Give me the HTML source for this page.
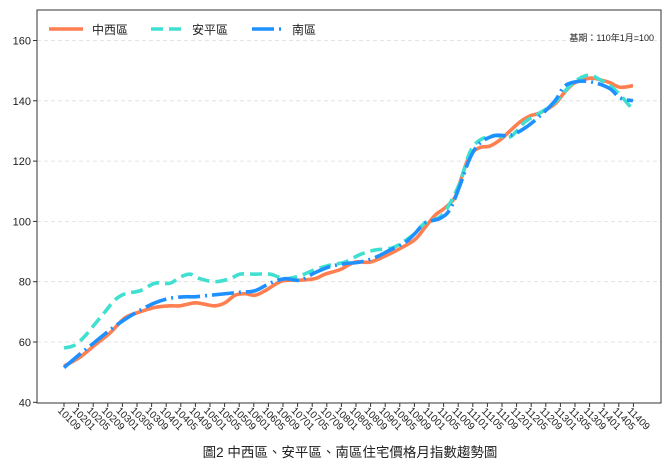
<!DOCTYPE html>
<html><head><meta charset="utf-8"><style>
html,body{margin:0;padding:0;background:#fff;}
svg text{font-family:"Liberation Sans","Noto Sans CJK TC",sans-serif;fill:#222;}
</style></head><body>
<svg id="s" width="671" height="470" viewBox="0 0 671 470" xmlns="http://www.w3.org/2000/svg">
<rect x="0" y="0" width="671" height="470" fill="#fff"/>
<g id="grid"></g>
<g id="lines" fill="none" stroke-width="3.6" stroke-linecap="butt" stroke-linejoin="round"></g>
<rect x="37" y="10" width="624" height="393" fill="none" stroke="#333" stroke-width="1"/>
<g id="ticks"></g>
<line x1="49" y1="29" x2="83" y2="29" stroke="#FF7F50" stroke-width="3.6"/>
<text x="92" y="34" font-size="12">中西區</text>
<line x1="151" y1="29" x2="183" y2="29" stroke="#40E0D0" stroke-width="3.6" stroke-dasharray="12,6"/>
<text x="192" y="34" font-size="12">安平區</text>
<line x1="252" y1="29" x2="283" y2="29" stroke="#1E90FF" stroke-width="3.6" stroke-dasharray="22,5,2,5"/>
<text x="292" y="34" font-size="12">南區</text>
<text x="654" y="41" font-size="9" text-anchor="end">基期：110年1月=100</text>
<text x="350" y="457" font-size="13.5" text-anchor="middle">圖2 中西區、安平區、南區住宅價格月指數趨勢圖</text>
</svg>
<script>
var NS="http://www.w3.org/2000/svg";
function Y(v){return 402.3-(v-40)*3.015;}
function el(t,a,p){var e=document.createElementNS(NS,t);for(var k in a)e.setAttribute(k,a[k]);p.appendChild(e);return e;}
var g=document.getElementById('grid'),tk=document.getElementById('ticks');
for(var v=40;v<=160;v+=20){var y=Y(v);
 if(v>40)el('line',{x1:37,x2:661,y1:y,y2:y,stroke:'#ddd','stroke-width':0.8,'stroke-dasharray':'4,3'},g);
 el('line',{x1:33,x2:37,y1:y,y2:y,stroke:'#333'},tk);
 var t=el('text',{x:31,y:y+4,'font-size':11,'text-anchor':'end'},tk);t.textContent=v;}
var labs=[];for(var yr=101;yr<=114;yr++){[1,5,9].forEach(function(m){var s=yr+(m<10?'0':'')+m;if(!(yr==101&&m<9))labs.push(s);});}
labs.forEach(function(l,i){var x=64+i*14.6;
 el('line',{x1:x,x2:x,y1:403,y2:407,stroke:'#333'},tk);
 var t=el('text',{x:0,y:0,'font-size':10,'text-anchor':'middle',transform:'translate('+(x+3)+',421) rotate(45)'},tk);t.textContent=l;});
function path(pts){var p=pts.map(function(a){return[a[0],Y(a[1])];});var d='M'+p[0][0]+','+p[0][1];
 for(var i=0;i<p.length-1;i++){var p0=p[i-1]||p[i],p1=p[i],p2=p[i+1],p3=p[i+2]||p2;
  d+=' C'+(p1[0]+(p2[0]-p0[0])/6)+','+(p1[1]+(p2[1]-p0[1])/6)+' '+(p2[0]-(p3[0]-p1[0])/6)+','+(p2[1]-(p3[1]-p1[1])/6)+' '+p2[0]+','+p2[1];}
 return d;}
var L=document.getElementById('lines');
var orange=[[64,52],[80,55],[95,59],[110,63],[125,68],[140,70],[155,71.5],[170,72],[180,72],[195,73],[205,72.5],[215,72],[225,73],[235,75.5],[245,76],[255,75.5],[265,77],[280,80],[290,80.5],[300,80.5],[315,81],[325,82.5],[340,84],[355,86.5],[370,86.5],[385,88.5],[400,91],[415,94],[425,98],[435,102],[445,104.5],[455,108],[462,115],[470,122],[480,124.5],[490,125],[500,127],[510,130],[520,133],[530,135],[540,136],[555,139],[565,143],[575,146],[590,147.5],[600,147],[610,146],[620,144.5],[633,145]];
var cyan=[[64,58],[75,59],[85,62],[95,66],[105,70],[115,74],[125,76],[140,77],[155,79.5],[170,79.5],[180,81.5],[190,82.5],[200,81],[215,80],[230,81],[240,82.5],[255,82.5],[270,82.5],[285,81],[300,82],[315,84],[330,85.5],[345,86.5],[360,89],[375,90.5],[390,91],[400,92.5],[415,96],[425,99.5],[440,101.5],[450,106],[460,113],[470,123],[480,127],[495,128.5],[510,128],[525,133],[540,136],[555,139.5],[570,145],[580,147.5],[590,148.5],[600,147],[610,145],[620,142],[633,137]];
var blue=[[64,51.5],[80,56],[95,60],[110,64],[125,67.5],[140,70.5],[155,73],[170,74.5],[185,75],[195,75],[210,75.5],[225,76],[240,76.5],[255,77],[270,79.5],[285,81],[300,80.5],[315,83],[330,85],[345,86],[360,86.5],[375,88],[390,90.5],[405,93],[415,96],[425,99.5],[440,101],[450,104],[460,112],[470,121],[480,126],[495,128.5],[510,128.5],[525,131],[540,135],[555,140],[565,145],[580,146.5],[595,146],[610,144],[620,141],[633,140]];
el('path',{d:path(orange),stroke:'#FF7F50'},L);
el('path',{d:path(cyan),stroke:'#40E0D0','stroke-dasharray':'12,6'},L);
el('path',{d:path(blue),stroke:'#1E90FF','stroke-dasharray':'22,5,2,5'},L);
</script>
</body></html>
